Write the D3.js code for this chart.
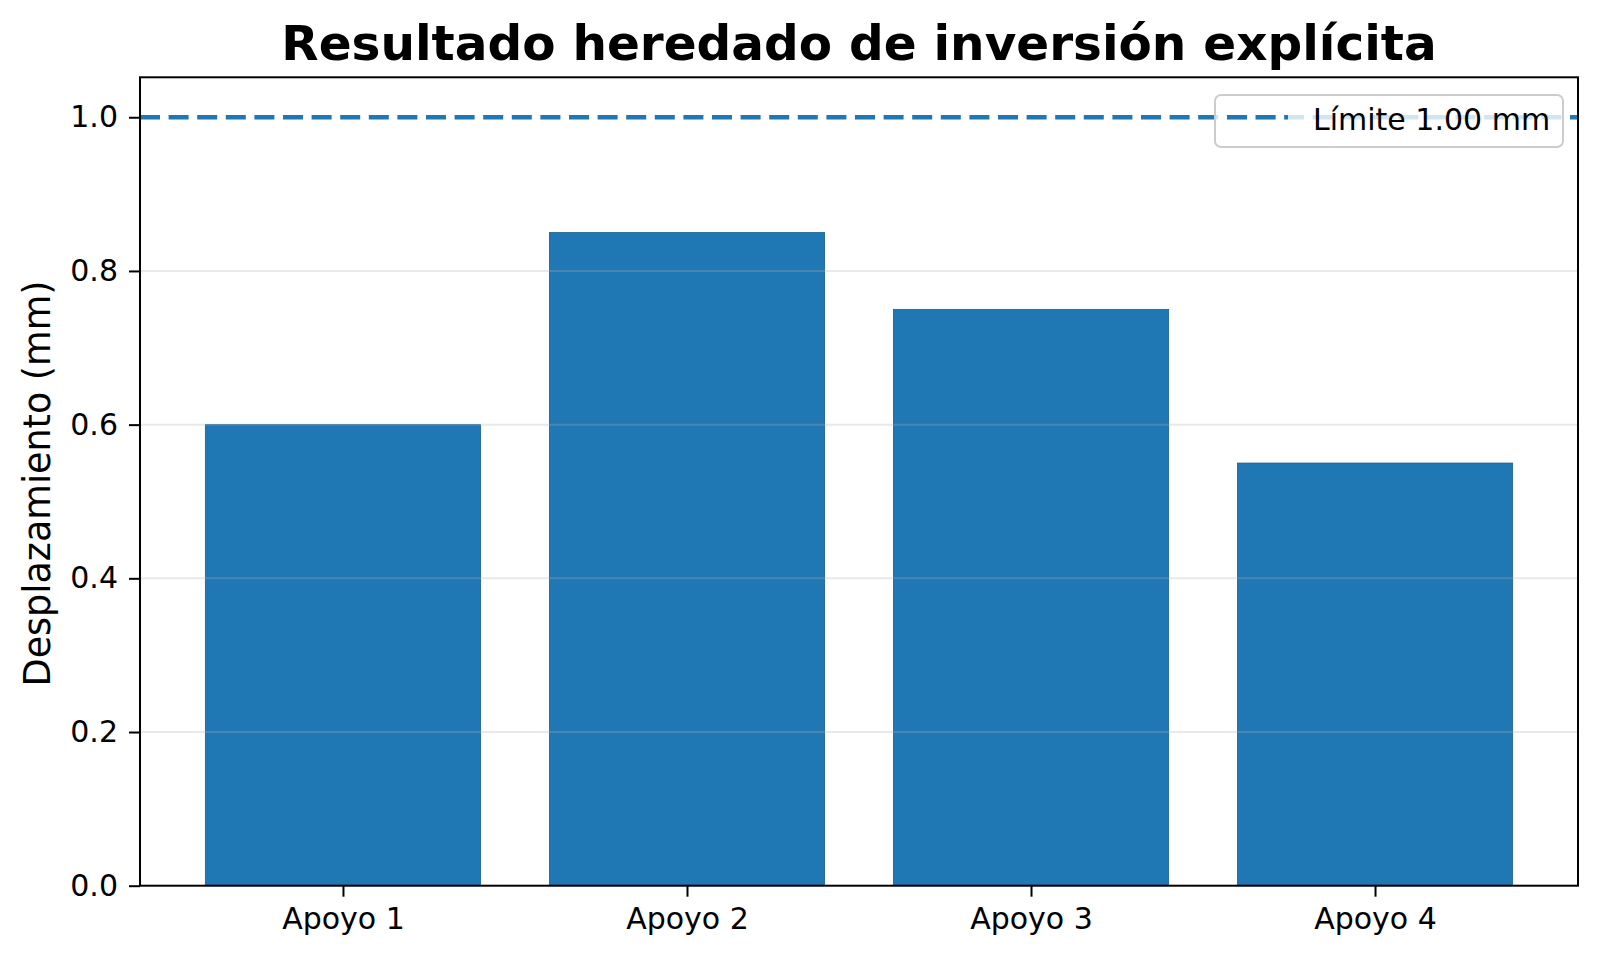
<!DOCTYPE html>
<html>
<head>
<meta charset="utf-8">
<script src="https://cdn.jsdelivr.net/npm/d3@7"></script>
<style>
  html, body { margin: 0; padding: 0; background: #fff; }
  svg { display: block; font-family: "DejaVu Sans", sans-serif; }
</style>
</head>
<body>
<svg id="chart" width="1600" height="958"></svg>
<script>
const categories = ["Apoyo 1", "Apoyo 2", "Apoyo 3", "Apoyo 4"];
const values = [0.60, 0.85, 0.75, 0.55];
const yTicks = [0.0, 0.2, 0.4, 0.6, 0.8, 1.0];
const limitValue = 1.0;
const legendLabel = "Límite 1.00 mm";
const titleText = "Resultado heredado de inversión explícita";
const yLabelText = "Desplazamiento (mm)";

const W = 1600, H = 958;
const m = { left: 140, right: 1578, top: 77.3, bottom: 885.7 };
const blue = "#1f77b4";

const svg = d3.select("#chart");

const x = d3.scaleLinear().domain([-0.59, 3.59]).range([m.left, m.right]);
const y = d3.scaleLinear().domain([0, 1.052]).range([m.bottom, m.top]);
const barW = x(0.8) - x(0);

// Bars
svg.append("g").selectAll("rect").data(values).join("rect")
  .attr("x", (d, i) => x(i - 0.4))
  .attr("y", d => y(d))
  .attr("width", barW)
  .attr("height", d => y(0) - y(d))
  .attr("fill", blue)
  .attr("stroke", "#1b5e8f")
  .attr("stroke-width", 0.8);

// Grid (over bars)
svg.append("g").selectAll("line").data(yTicks.filter(t => t > 0 && t < 1)).join("line")
  .attr("x1", m.left).attr("x2", m.right)
  .attr("y1", d => y(d)).attr("y2", d => y(d))
  .attr("stroke", "#b0b0b0").attr("stroke-opacity", 0.28).attr("stroke-width", 2);

// Limit line
svg.append("line")
  .attr("x1", m.left).attr("x2", m.right)
  .attr("y1", y(limitValue)).attr("y2", y(limitValue))
  .attr("stroke", blue).attr("stroke-width", 4.5)
  .attr("stroke-dasharray", "20 8.6");

// Axes
const yAxis = d3.axisLeft(y).tickValues(yTicks).tickFormat(d3.format(".1f")).tickSize(11).tickPadding(11);
const gy = svg.append("g").attr("transform", `translate(${m.left},0)`).call(yAxis);
const xAxis = d3.axisBottom(x).tickValues(d3.range(categories.length)).tickFormat(i => categories[i]).tickSize(11).tickPadding(10);
const gx = svg.append("g").attr("transform", `translate(0,${m.bottom})`).call(xAxis);
[gx, gy].forEach(g => {
  g.select(".domain").remove();
  g.selectAll(".tick line").attr("stroke", "#000").attr("stroke-width", 2);
  g.selectAll(".tick text").attr("fill", "#000").style("font-size", "30px").style("font-family", "DejaVu Sans");
});
gx.selectAll(".tick text").attr("dy", "0.74em");

// Frame
svg.append("rect")
  .attr("x", m.left).attr("y", m.top)
  .attr("width", m.right - m.left).attr("height", m.bottom - m.top)
  .attr("fill", "none").attr("stroke", "#000").attr("stroke-width", 2);

// Title
svg.append("text")
  .attr("x", (m.left + m.right) / 2).attr("y", 60)
  .attr("text-anchor", "middle")
  .style("font-size", "48.5px").style("font-weight", "bold")
  .text(titleText);

// Y label
svg.append("text")
  .attr("transform", `translate(50,${(m.top + m.bottom) / 2 + 2}) rotate(-90)`)
  .attr("text-anchor", "middle")
  .style("font-size", "36.5px")
  .text(yLabelText);

// Legend
const lg = svg.append("g");
lg.append("rect")
  .attr("x", 1215).attr("y", 95).attr("width", 348).attr("height", 52)
  .attr("rx", 6).attr("ry", 6)
  .attr("fill", "#fff").attr("fill-opacity", 0.8)
  .attr("stroke", "#cccccc").attr("stroke-width", 2);
lg.append("line")
  .attr("x1", 1227).attr("x2", 1288).attr("y1", y(limitValue)).attr("y2", y(limitValue))
  .attr("stroke", blue).attr("stroke-width", 4.5).attr("stroke-dasharray", "20 8.6");
lg.append("text")
  .attr("x", 1313).attr("y", 130)
  .style("font-size", "30px")
  .text(legendLabel);
</script>
</body>
</html>
